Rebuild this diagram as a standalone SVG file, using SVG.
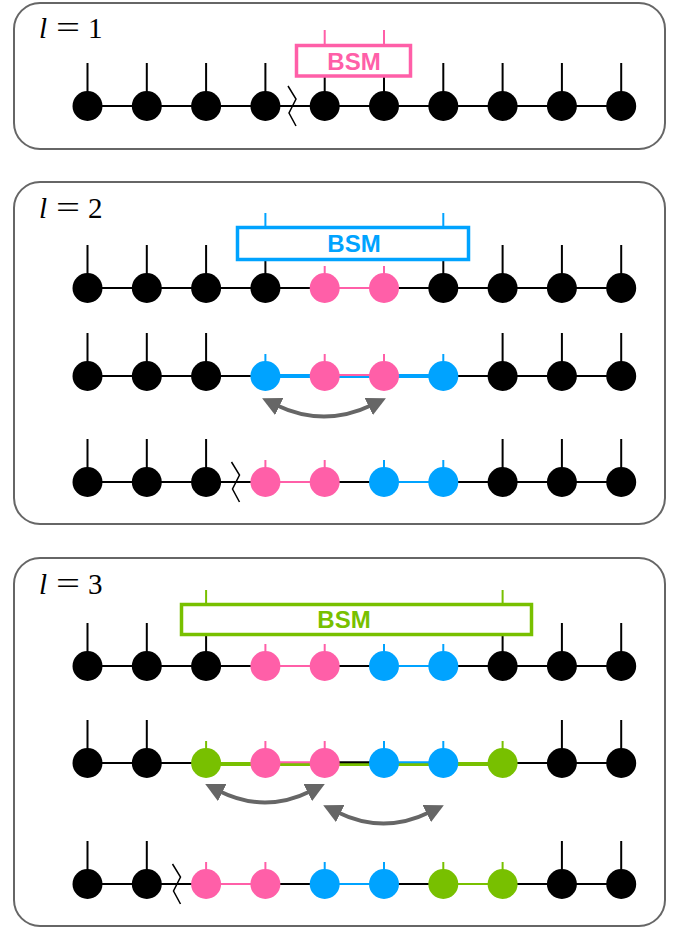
<svg xmlns="http://www.w3.org/2000/svg" xmlns:xlink="http://www.w3.org/1999/xlink" width="688" height="931" viewBox="0 0 688 931">
  <style>
    .panel { fill: #fff; stroke: #666; stroke-width: 2; }
    .lbl { font-family: "Liberation Serif", "DejaVu Serif", serif; font-size: 29px; fill: #000; }
    .eq { font-size: 31px; }
    .bond { fill: none; stroke-width: 2; }
    .thick { stroke-width: 4; }
    .k { stroke: #000; fill: #000; }
    .p { stroke: #ff5fa8; fill: #ff5fa8; }
    .b { stroke: #00a3ff; fill: #00a3ff; }
    .g { stroke: #78c000; fill: #78c000; }
    .bond.k, .bond.p, .bond.b, .bond.g { fill: none; }
    .zig { fill: none; stroke: #000; stroke-width: 1.5; }
    .bsm rect { fill: #fff; stroke-width: 3.5; }
    .bsm line { stroke-width: 2; }
    .bsm text { font-family: "Liberation Sans", Arial, sans-serif; font-weight: bold; font-size: 24px; text-anchor: middle; stroke: none; }
    .arrow { fill: none; stroke: #666; stroke-width: 4; }
  </style>
  <defs>
    <!-- black site: long physical leg + circle -->
    <g id="kn"><line x1="0" y1="-43" x2="0" y2="0" stroke-width="2"/><circle r="15" stroke="none"/></g>
    <!-- coloured site: short leg + circle -->
    <g id="cn"><line x1="0" y1="-22" x2="0" y2="0" stroke-width="2"/><circle r="15" stroke="none"/></g>
    <marker id="ah" viewBox="0 0 16 16" refX="3" refY="8" markerWidth="19" markerHeight="19" markerUnits="userSpaceOnUse" orient="auto-start-reverse">
      <path d="M0,0 L16,8 L0,16 z" fill="#666"/>
    </marker>
  </defs>

  <!-- panel frames and level labels -->
  <g id="panels">
    <rect class="panel" x="14" y="3" width="651" height="146" rx="26"/>
    <rect class="panel" x="14" y="182" width="651" height="342" rx="26"/>
    <rect class="panel" x="14" y="558" width="651" height="368" rx="26"/>
  </g>
  <g id="labels">
    <text class="lbl" x="39" y="38" font-style="italic">l</text>
    <text class="lbl eq" x="56" y="38" textLength="24" lengthAdjust="spacingAndGlyphs">=</text>
    <text class="lbl" x="88" y="38">1</text>
    <text class="lbl" x="39" y="218" font-style="italic">l</text>
    <text class="lbl eq" x="56" y="218" textLength="24" lengthAdjust="spacingAndGlyphs">=</text>
    <text class="lbl" x="88" y="218">2</text>
    <text class="lbl" x="39" y="594" font-style="italic">l</text>
    <text class="lbl eq" x="56" y="594" textLength="24" lengthAdjust="spacingAndGlyphs">=</text>
    <text class="lbl" x="88" y="594">3</text>
  </g>

  <!-- bonds between sites, cut marks and swap arrows -->
  <g id="connectors">
    <!-- l = 1 -->
    <path class="bond k" d="M87.5,106 H621.2"/>
    <path class="zig" d="M288,86 L296,99 L289,113 L296,126"/>
    <!-- l = 2, row 1 -->
    <path class="bond k" d="M87.5,288 H324.7 M384,288 H621.2"/>
    <path class="bond p" d="M324.7,288 H384"/>
    <!-- l = 2, row 2 -->
    <path class="bond k" d="M87.5,376 H265.4 M443.3,376 H621.2"/>
    <path class="bond b thick" d="M265.4,376 H443.3"/>
    <path class="bond p" d="M324.7,375 H384"/>
    <!-- l = 2, row 3 -->
    <path class="bond k" d="M87.5,482 H265.4 M324.7,482 H384 M443.3,482 H621.2"/>
    <path class="bond p" d="M265.4,482 H324.7"/>
    <path class="bond b" d="M384,482 H443.3"/>
    <path class="zig" d="M231.5,462 L239.5,475 L232.5,489 L239.5,502"/>
    <!-- l = 3, row 1 -->
    <path class="bond k" d="M87.5,666 H265.4 M324.7,666 H384 M443.3,666 H621.2"/>
    <path class="bond p" d="M265.4,666 H324.7"/>
    <path class="bond b" d="M384,666 H443.3"/>
    <!-- l = 3, row 2 -->
    <path class="bond k" d="M87.5,763 H206.1 M502.6,763 H621.2"/>
    <path class="bond g thick" d="M206.1,764 H502.6"/>
    <path class="bond p" d="M265.4,762.3 H324.7"/>
    <path class="bond k" d="M324.7,762.3 H384"/>
    <path class="bond b" d="M384,762.3 H443.3"/>
    <!-- l = 3, row 3 -->
    <path class="bond k" d="M87.5,884 H206.1 M265.4,884 H324.7 M384,884 H443.3 M502.6,884 H621.2"/>
    <path class="bond p" d="M206.1,884 H265.4"/>
    <path class="bond b" d="M324.7,884 H384"/>
    <path class="bond g" d="M443.3,884 H502.6"/>
    <path class="zig" d="M172.5,864 L180.5,877 L173.5,891 L180.5,904"/>
    <!-- swap arrows -->
    <path class="arrow" d="M276,405 Q324,428 372,405" marker-start="url(#ah)" marker-end="url(#ah)"/>
    <path class="arrow" d="M219,791 Q265,814 311,791" marker-start="url(#ah)" marker-end="url(#ah)"/>
    <path class="arrow" d="M337,812 Q383.5,835 430,812" marker-start="url(#ah)" marker-end="url(#ah)"/>
  </g>

  <!-- sites -->
  <g id="sites">
    <!-- l = 1 -->
    <g id="s1-1" class="k"><use xlink:href="#kn" x="87.5" y="106"/></g>
    <g id="s1-2" class="k"><use xlink:href="#kn" x="146.8" y="106"/></g>
    <g id="s1-3" class="k"><use xlink:href="#kn" x="206.1" y="106"/></g>
    <g id="s1-4" class="k"><use xlink:href="#kn" x="265.4" y="106"/></g>
    <g id="s1-5" class="k"><use xlink:href="#kn" x="324.7" y="106"/></g>
    <g id="s1-6" class="k"><use xlink:href="#kn" x="384" y="106"/></g>
    <g id="s1-7" class="k"><use xlink:href="#kn" x="443.3" y="106"/></g>
    <g id="s1-8" class="k"><use xlink:href="#kn" x="502.6" y="106"/></g>
    <g id="s1-9" class="k"><use xlink:href="#kn" x="561.9" y="106"/></g>
    <g id="s1-10" class="k"><use xlink:href="#kn" x="621.2" y="106"/></g>

    <!-- l = 2, row 1 -->
    <g id="s2a-1" class="k"><use xlink:href="#kn" x="87.5" y="288"/></g>
    <g id="s2a-2" class="k"><use xlink:href="#kn" x="146.8" y="288"/></g>
    <g id="s2a-3" class="k"><use xlink:href="#kn" x="206.1" y="288"/></g>
    <g id="s2a-4" class="k"><use xlink:href="#kn" x="265.4" y="288"/></g>
    <g id="s2a-5" class="p"><use xlink:href="#cn" x="324.7" y="288"/></g>
    <g id="s2a-6" class="p"><use xlink:href="#cn" x="384" y="288"/></g>
    <g id="s2a-7" class="k"><use xlink:href="#kn" x="443.3" y="288"/></g>
    <g id="s2a-8" class="k"><use xlink:href="#kn" x="502.6" y="288"/></g>
    <g id="s2a-9" class="k"><use xlink:href="#kn" x="561.9" y="288"/></g>
    <g id="s2a-10" class="k"><use xlink:href="#kn" x="621.2" y="288"/></g>

    <!-- l = 2, row 2 -->
    <g id="s2b-1" class="k"><use xlink:href="#kn" x="87.5" y="376"/></g>
    <g id="s2b-2" class="k"><use xlink:href="#kn" x="146.8" y="376"/></g>
    <g id="s2b-3" class="k"><use xlink:href="#kn" x="206.1" y="376"/></g>
    <g id="s2b-4" class="b"><use xlink:href="#cn" x="265.4" y="376"/></g>
    <g id="s2b-5" class="p"><use xlink:href="#cn" x="324.7" y="376"/></g>
    <g id="s2b-6" class="p"><use xlink:href="#cn" x="384" y="376"/></g>
    <g id="s2b-7" class="b"><use xlink:href="#cn" x="443.3" y="376"/></g>
    <g id="s2b-8" class="k"><use xlink:href="#kn" x="502.6" y="376"/></g>
    <g id="s2b-9" class="k"><use xlink:href="#kn" x="561.9" y="376"/></g>
    <g id="s2b-10" class="k"><use xlink:href="#kn" x="621.2" y="376"/></g>

    <!-- l = 2, row 3 -->
    <g id="s2c-1" class="k"><use xlink:href="#kn" x="87.5" y="482"/></g>
    <g id="s2c-2" class="k"><use xlink:href="#kn" x="146.8" y="482"/></g>
    <g id="s2c-3" class="k"><use xlink:href="#kn" x="206.1" y="482"/></g>
    <g id="s2c-4" class="p"><use xlink:href="#cn" x="265.4" y="482"/></g>
    <g id="s2c-5" class="p"><use xlink:href="#cn" x="324.7" y="482"/></g>
    <g id="s2c-6" class="b"><use xlink:href="#cn" x="384" y="482"/></g>
    <g id="s2c-7" class="b"><use xlink:href="#cn" x="443.3" y="482"/></g>
    <g id="s2c-8" class="k"><use xlink:href="#kn" x="502.6" y="482"/></g>
    <g id="s2c-9" class="k"><use xlink:href="#kn" x="561.9" y="482"/></g>
    <g id="s2c-10" class="k"><use xlink:href="#kn" x="621.2" y="482"/></g>

    <!-- l = 3, row 1 -->
    <g id="s3a-1" class="k"><use xlink:href="#kn" x="87.5" y="666"/></g>
    <g id="s3a-2" class="k"><use xlink:href="#kn" x="146.8" y="666"/></g>
    <g id="s3a-3" class="k"><use xlink:href="#kn" x="206.1" y="666"/></g>
    <g id="s3a-4" class="p"><use xlink:href="#cn" x="265.4" y="666"/></g>
    <g id="s3a-5" class="p"><use xlink:href="#cn" x="324.7" y="666"/></g>
    <g id="s3a-6" class="b"><use xlink:href="#cn" x="384" y="666"/></g>
    <g id="s3a-7" class="b"><use xlink:href="#cn" x="443.3" y="666"/></g>
    <g id="s3a-8" class="k"><use xlink:href="#kn" x="502.6" y="666"/></g>
    <g id="s3a-9" class="k"><use xlink:href="#kn" x="561.9" y="666"/></g>
    <g id="s3a-10" class="k"><use xlink:href="#kn" x="621.2" y="666"/></g>

    <!-- l = 3, row 2 -->
    <g id="s3b-1" class="k"><use xlink:href="#kn" x="87.5" y="763"/></g>
    <g id="s3b-2" class="k"><use xlink:href="#kn" x="146.8" y="763"/></g>
    <g id="s3b-3" class="g"><use xlink:href="#cn" x="206.1" y="763"/></g>
    <g id="s3b-4" class="p"><use xlink:href="#cn" x="265.4" y="763"/></g>
    <g id="s3b-5" class="p"><use xlink:href="#cn" x="324.7" y="763"/></g>
    <g id="s3b-6" class="b"><use xlink:href="#cn" x="384" y="763"/></g>
    <g id="s3b-7" class="b"><use xlink:href="#cn" x="443.3" y="763"/></g>
    <g id="s3b-8" class="g"><use xlink:href="#cn" x="502.6" y="763"/></g>
    <g id="s3b-9" class="k"><use xlink:href="#kn" x="561.9" y="763"/></g>
    <g id="s3b-10" class="k"><use xlink:href="#kn" x="621.2" y="763"/></g>

    <!-- l = 3, row 3 -->
    <g id="s3c-1" class="k"><use xlink:href="#kn" x="87.5" y="884"/></g>
    <g id="s3c-2" class="k"><use xlink:href="#kn" x="146.8" y="884"/></g>
    <g id="s3c-3" class="p"><use xlink:href="#cn" x="206.1" y="884"/></g>
    <g id="s3c-4" class="p"><use xlink:href="#cn" x="265.4" y="884"/></g>
    <g id="s3c-5" class="b"><use xlink:href="#cn" x="324.7" y="884"/></g>
    <g id="s3c-6" class="b"><use xlink:href="#cn" x="384" y="884"/></g>
    <g id="s3c-7" class="g"><use xlink:href="#cn" x="443.3" y="884"/></g>
    <g id="s3c-8" class="g"><use xlink:href="#cn" x="502.6" y="884"/></g>
    <g id="s3c-9" class="k"><use xlink:href="#kn" x="561.9" y="884"/></g>
    <g id="s3c-10" class="k"><use xlink:href="#kn" x="621.2" y="884"/></g>
  </g>

  <!-- Bell-state measurement boxes -->
  <g id="bsm1" class="bsm p">
    <line x1="324.7" y1="30" x2="324.7" y2="45"/>
    <line x1="384" y1="30" x2="384" y2="45"/>
    <rect x="296.5" y="45.5" width="114" height="30.5"/>
    <text x="354" y="69.5">BSM</text>
  </g>
  <g id="bsm2" class="bsm b">
    <line x1="265.4" y1="213" x2="265.4" y2="228"/>
    <line x1="443.3" y1="213" x2="443.3" y2="228"/>
    <rect x="237.5" y="227.5" width="231" height="32"/>
    <text x="354" y="252">BSM</text>
  </g>
  <g id="bsm3" class="bsm g">
    <line x1="206.1" y1="590" x2="206.1" y2="605"/>
    <line x1="502.6" y1="590" x2="502.6" y2="605"/>
    <rect x="181.5" y="604.5" width="350" height="30"/>
    <text x="344" y="628">BSM</text>
  </g>
</svg>
